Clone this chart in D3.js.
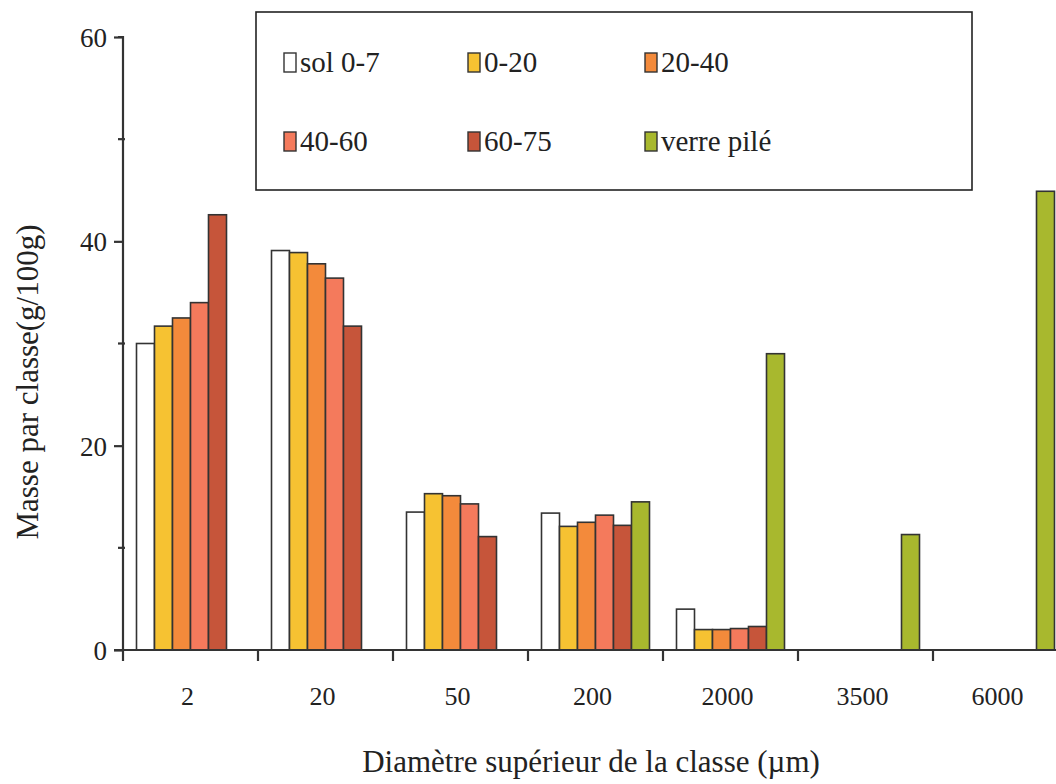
<!DOCTYPE html>
<html><head><meta charset="utf-8">
<script src="https://cdn.jsdelivr.net/npm/d3@7"></script>
<style>
body{margin:0;background:#fff}
svg{display:block}
</style>
</head><body>
<svg id="c" width="1056" height="784" font-family="Liberation Serif"></svg>
<script>
const categories = ["2","20","50","200","2000","3500","6000"];
const seriesNames = ["sol 0-7","0-20","20-40","40-60","60-75","verre pilé"];
const sol07   = [30.0, 39.1, 13.5, 13.4, 4.0, null, null];
const s0_20   = [31.7, 38.9, 15.3, 12.1, 2.0, null, null];
const s20_40  = [32.5, 37.8, 15.1, 12.5, 2.0, null, null];
const s40_60  = [34.0, 36.4, 14.3, 13.2, 2.1, null, null];
const s60_75  = [42.6, 31.7, 11.1, 12.2, 2.3, null, null];
const verre   = [null, null, null, 14.5, 29.0, 11.3, 44.9];
const yTicks  = [0, 20, 40, 60];
const yMinor  = [10, 30, 50];

const seriesValues = [sol07, s0_20, s20_40, s40_60, s60_75, verre];
const colors = ["#ffffff","#f6c232","#f38a3b","#f47a5c","#c6553a","#a8b82e"];
const ink = "#333";
const FONT = "Liberation Serif";

const svg = d3.select("#c");
const mLeft = 123, mRight = 1068, mTop = 37, mBottom = 650;

const x0 = d3.scaleBand().domain(categories).range([mLeft, mRight]).paddingInner(0.2).paddingOuter(0.1);
const x1 = d3.scaleBand().domain(seriesNames).range([0, x0.bandwidth()]);
const y = d3.scaleLinear().domain([0, 60]).range([mBottom, mTop]);

function txt(sel, size) {
  return sel.attr("font-family", FONT).attr("font-size", size).attr("fill", "#222");
}

// bars
seriesNames.forEach((s, si) => {
  const data = categories.map((c, ci) => ({c, v: seriesValues[si][ci]})).filter(d => d.v != null && d.v > 0);
  svg.append("g").selectAll("rect").data(data).join("rect")
    .attr("x", d => x0(d.c) + x1(s))
    .attr("y", d => y(d.v))
    .attr("width", x1.bandwidth())
    .attr("height", d => y(0) - y(d.v))
    .attr("fill", colors[si])
    .attr("stroke", ink).attr("stroke-width", 1.6);
});

// y axis
const yAxis = svg.append("g").attr("transform", `translate(${mLeft},0)`)
  .call(d3.axisLeft(y).tickValues(yTicks).tickSize(9).tickPadding(10).tickFormat(d3.format("d")));
yAxis.attr("font-family", FONT).attr("font-size", 27);
yAxis.select(".domain").attr("stroke", ink).attr("stroke-width", 2.2).attr("d", `M-5,${mTop}H0V${mBottom}`);
yAxis.selectAll(".tick line").attr("stroke", ink).attr("stroke-width", 2.2);
txt(yAxis.selectAll(".tick text"), 27).attr("dy", "0.35em").attr("x", -16);
svg.append("g").selectAll("line").data(yMinor).join("line")
  .attr("x1", mLeft - 5).attr("x2", mLeft + 2)
  .attr("y1", d => y(d)).attr("y2", d => y(d))
  .attr("stroke", ink).attr("stroke-width", 2.2);

// x axis
svg.append("line").attr("x1", mLeft - 9).attr("x2", mRight).attr("y1", mBottom).attr("y2", mBottom)
  .attr("stroke", ink).attr("stroke-width", 2.2);
const boundaries = categories.map(c => x0(c) - x0.step() * 0.1);
svg.append("g").selectAll("line").data(boundaries).join("line")
  .attr("x1", d => d).attr("x2", d => d).attr("y1", mBottom).attr("y2", mBottom + 11)
  .attr("stroke", ink).attr("stroke-width", 2.2);
txt(svg.append("g").selectAll("text").data(categories).join("text"), 26)
  .attr("x", d => x0(d) + x0.bandwidth() / 2 - 3)
  .attr("y", 705)
  .attr("text-anchor", "middle")
  .text(d => d);

// titles
txt(svg.append("text"), 31).attr("x", 591).attr("y", 772).attr("text-anchor", "middle")
  .text("Diamètre supérieur de la classe (µm)");
txt(svg.append("text"), 31).attr("transform", "translate(38,382) rotate(-90)").attr("text-anchor", "middle")
  .text("Masse par classe(g/100g)");

// legend
svg.append("rect").attr("x", 256).attr("y", 12).attr("width", 716).attr("height", 178)
  .attr("fill", "#fff").attr("stroke", "#222").attr("stroke-width", 1.6);
const colX = [284, 468, 645];
const rowY = [62, 141];
seriesNames.forEach((s, i) => {
  const cx = colX[i % 3], cy = rowY[Math.floor(i / 3)];
  svg.append("rect").attr("x", cx).attr("y", cy - 9).attr("width", 12).attr("height", 19)
    .attr("fill", colors[i]).attr("stroke", ink).attr("stroke-width", 1.4);
  txt(svg.append("text"), 29).attr("x", cx + 16).attr("y", cy + 10).text(s);
});
</script>
</body></html>
